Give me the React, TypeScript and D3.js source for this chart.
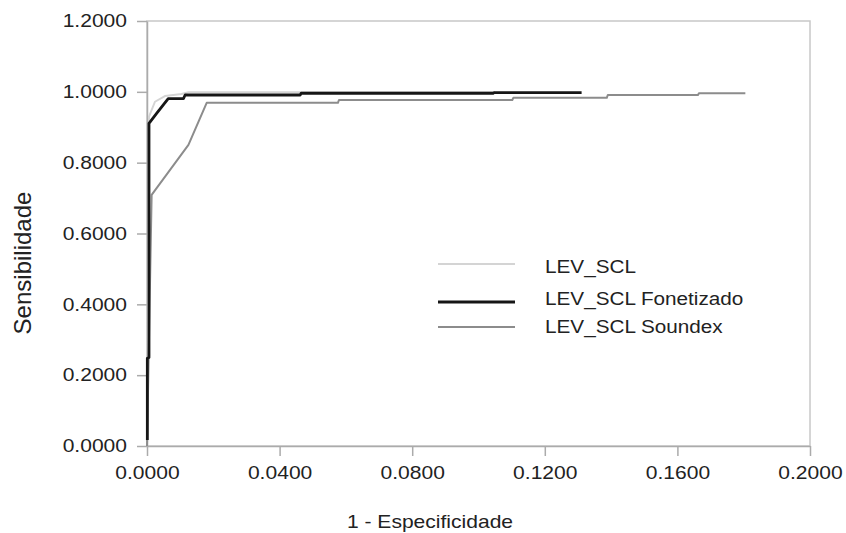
import { useRef, useEffect } from 'react';
import * as d3 from 'd3';

// 1 - Especificidade / Sensibilidade pairs
const levSclX = [0, 0.0006, 0.0024, 0.0054, 0.0104, 0.0125, 0.105];
const levSclY = [0, 0.93, 0.972, 0.988, 0.994, 0.999, 0.999];

const fonetizadoX = [0.0001, 0.0001, 0.0006, 0.0006, 0.0029, 0.0064, 0.011, 0.0115, 0.0462, 0.0465, 0.1044, 0.1047, 0.1311];
const fonetizadoY = [0.017, 0.248, 0.25, 0.911, 0.939, 0.981, 0.981, 0.991, 0.991, 0.996, 0.996, 0.998, 0.998];

const soundexX = [0, 0.0014, 0.0125, 0.018, 0.0576, 0.0579, 0.1102, 0.1105, 0.1387, 0.139, 0.1662, 0.1665, 0.1805];
const soundexY = [0, 0.709, 0.85, 0.969, 0.969, 0.977, 0.977, 0.983, 0.983, 0.991, 0.991, 0.996, 0.996];

const seriesNames = ['LEV_SCL', 'LEV_SCL Fonetizado', 'LEV_SCL Soundex'];
const xTicks = [0, 0.04, 0.08, 0.12, 0.16, 0.2];
const yTicks = [0, 0.2, 0.4, 0.6, 0.8, 1.0, 1.2];

const App = () => {
  const svgRef = useRef<SVGSVGElement>(null);

  useEffect(() => {
    const width = 846;
    const height = 533;
    const margin = { top: 21, right: 36, bottom: 87, left: 147 };
    const font = '"Liberation Sans", Arial, sans-serif';
    const stretch = 1.17; // the reference text is a bit wide

    const svg = d3.select(svgRef.current);
    svg.selectAll('*').remove();

    const x = d3.scaleLinear().domain([0, 0.2]).range([margin.left, width - margin.right]);
    const y = d3.scaleLinear().domain([0, 1.2]).range([height - margin.bottom, margin.top]);

    // plot frame
    svg.append('rect')
      .attr('x', x(0))
      .attr('y', y(1.2))
      .attr('width', x(0.2) - x(0))
      .attr('height', y(0) - y(1.2))
      .attr('fill', 'none')
      .attr('stroke', '#c8c8c8')
      .attr('stroke-width', 1.5);

    const fmt = d3.format('.4f');

    const yAxis = svg.append('g')
      .attr('transform', `translate(${x(0)},0)`)
      .call(d3.axisLeft(y).tickValues(yTicks).tickFormat(d => fmt(d as number)).tickSize(10).tickSizeOuter(0));

    const xAxis = svg.append('g')
      .attr('transform', `translate(0,${y(0)})`)
      .call(d3.axisBottom(x).tickValues(xTicks).tickFormat(d => fmt(d as number)).tickSize(10).tickSizeOuter(0));

    [yAxis, xAxis].forEach(g => {
      g.select('.domain').attr('stroke', '#ababab').attr('stroke-width', 1.5);
      g.selectAll('.tick line').attr('stroke', '#ababab').attr('stroke-width', 1.5);
      g.selectAll('.tick text')
        .attr('font-family', font)
        .attr('font-size', 18)
        .attr('fill', '#222')
        .attr('transform', `scale(${stretch},1)`);
    });
    yAxis.selectAll('.tick text').attr('x', -20 / stretch);
    xAxis.selectAll('.tick text').attr('y', 20);

    // axis titles
    svg.append('text')
      .attr('transform', `translate(430,528) scale(${stretch},1)`)
      .attr('text-anchor', 'middle')
      .attr('font-family', font)
      .attr('font-size', 18)
      .attr('fill', '#222')
      .text('1 - Especificidade');

    svg.append('text')
      .attr('transform', 'translate(31,263) rotate(-90)')
      .attr('text-anchor', 'middle')
      .attr('font-family', font)
      .attr('font-size', 24)
      .attr('fill', '#222')
      .text('Sensibilidade');

    const line = d3.line<[number, number]>()
      .x(d => x(d[0]))
      .y(d => y(d[1]));

    const series = [
      { name: seriesNames[0], xs: levSclX, ys: levSclY, color: '#d4d4d4', w: 2 },
      { name: seriesNames[2], xs: soundexX, ys: soundexY, color: '#8c8c8c', w: 2 },
      { name: seriesNames[1], xs: fonetizadoX, ys: fonetizadoY, color: '#161616', w: 2.8 },
    ];

    series.forEach(s => {
      svg.append('path')
        .datum(s.xs.map((v, i) => [v, s.ys[i]] as [number, number]))
        .attr('d', line)
        .attr('fill', 'none')
        .attr('stroke', s.color)
        .attr('stroke-width', s.w)
        .attr('stroke-linejoin', 'round');
    });

    // legend
    const legendItems = [series[0], series[2], series[1]];
    const legendLineY = [264, 302, 327];
    const legendTextY = [273, 305, 333];
    legendItems.forEach((s, i) => {
      svg.append('line')
        .attr('x1', 438)
        .attr('x2', 515)
        .attr('y1', legendLineY[i])
        .attr('y2', legendLineY[i])
        .attr('stroke', s.color)
        .attr('stroke-width', s.w);
      svg.append('text')
        .attr('transform', `translate(545,${legendTextY[i]}) scale(1.12,1)`)
        .attr('font-family', font)
        .attr('font-size', 18.5)
        .attr('fill', '#222')
        .text(s.name);
    });
  }, []);

  return (
    <div style={{ position: 'absolute', left: 0, top: 0 }}>
      <svg ref={svgRef} width={846} height={533} style={{ display: 'block', background: '#fff' }} />
    </div>
  );
};

export default App;
